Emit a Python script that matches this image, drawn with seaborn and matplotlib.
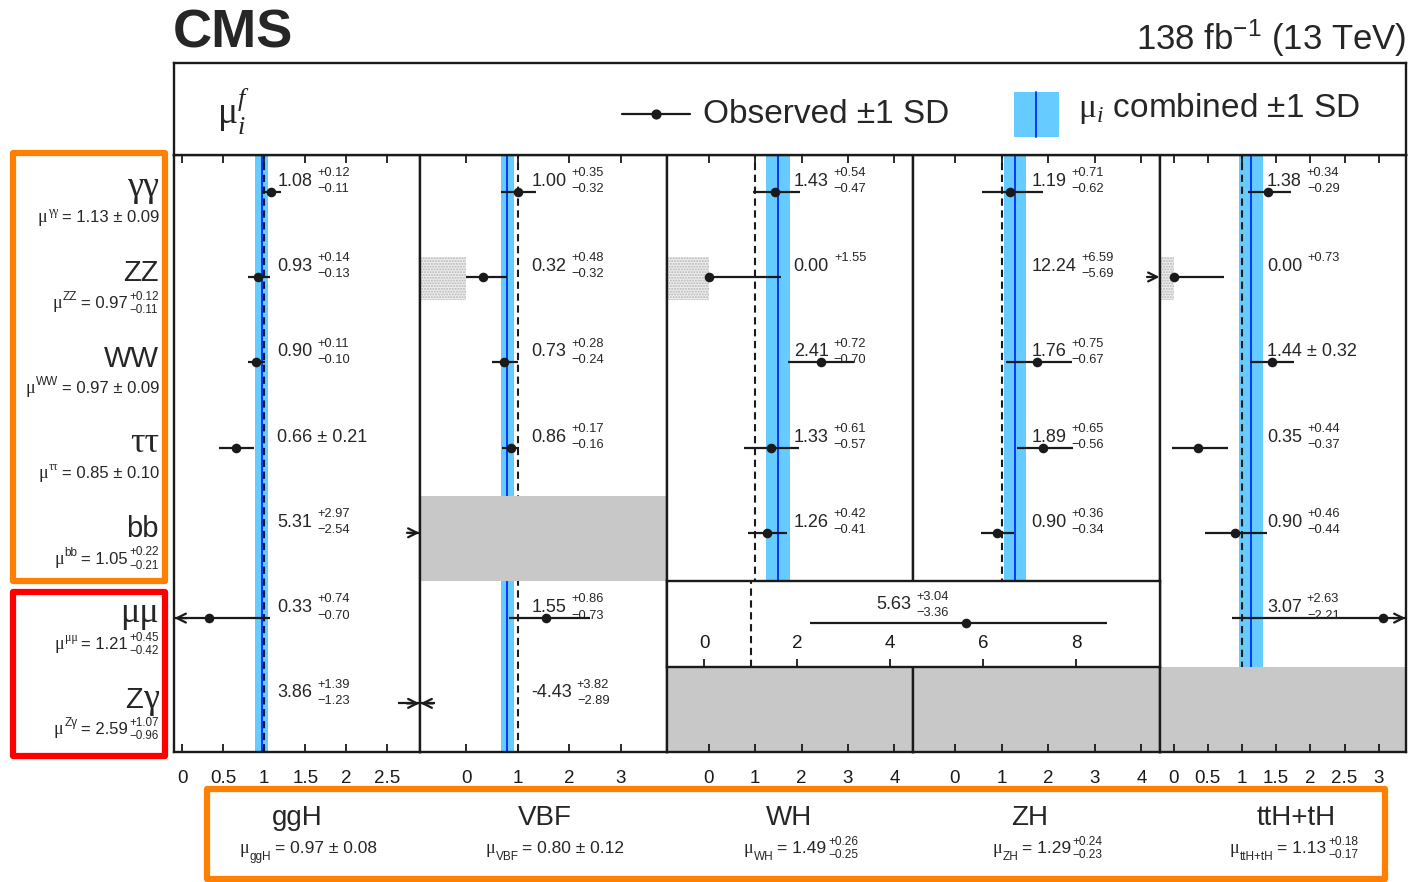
import numpy as np
import pandas as pd
import seaborn as sns
import matplotlib
matplotlib.use("Agg")
import matplotlib.pyplot as plt
from matplotlib import transforms
from matplotlib.patches import Rectangle
from matplotlib.text import Annotation

nan = np.nan

# ---------------- data ----------------
decays = ["γγ", "ZZ", "WW", "ττ", "bb", "μμ", "Zγ"]
decay_mu = [1.13, 0.97, 0.97, 0.85, 1.05, 1.21, 2.59]
decay_up = [0.09, 0.12, 0.09, 0.10, 0.22, 0.45, 1.07]
decay_dn = [0.09, 0.11, 0.09, 0.10, 0.21, 0.42, 0.96]

productions = ["ggH", "VBF", "WH", "ZH", "ttH+tH"]
prod_mu = [0.97, 0.80, 1.49, 1.29, 1.13]
prod_up = [0.08, 0.12, 0.26, 0.24, 0.18]
prod_dn = [0.08, 0.12, 0.25, 0.23, 0.17]

ggh_obs = [1.08, 0.93, 0.90, 0.66, 5.31, 0.33, 3.86]
ggh_up = [0.12, 0.14, 0.11, 0.21, 2.97, 0.74, 1.39]
ggh_dn = [0.11, 0.13, 0.10, 0.21, 2.54, 0.70, 1.23]

vbf_obs = [1.00, 0.32, 0.73, 0.86, nan, 1.55, -4.43]
vbf_up = [0.35, 0.48, 0.28, 0.17, nan, 0.86, 3.82]
vbf_dn = [0.32, 0.32, 0.24, 0.16, nan, 0.73, 2.89]

wh_obs = [1.43, 0.00, 2.41, 1.33, 1.26, nan, nan]
wh_up = [0.54, 1.55, 0.72, 0.61, 0.42, nan, nan]
wh_dn = [0.47, 0.00, 0.70, 0.57, 0.41, nan, nan]

zh_obs = [1.19, 12.24, 1.76, 1.89, 0.90, nan, nan]
zh_up = [0.71, 6.59, 0.75, 0.65, 0.36, nan, nan]
zh_dn = [0.62, 5.69, 0.67, 0.56, 0.34, nan, nan]

tth_obs = [1.38, 0.00, 1.44, 0.35, 0.90, 3.07, nan]
tth_up = [0.34, 0.73, 0.32, 0.44, 0.46, 2.63, nan]
tth_dn = [0.29, 0.00, 0.32, 0.37, 0.44, 2.21, nan]

# VH (WH+ZH) combined mu-mu measurement
vh_mumu_obs = 5.63
vh_mumu_up = 3.04
vh_mumu_dn = 3.36

# cells that are not measured (grey) and rows with a physical boundary at 0
unmeasured = {"ggH": [], "VBF": [4], "WH": [6], "ZH": [6], "ttH+tH": [6]}
boundary = {"ggH": [], "VBF": [1], "WH": [1], "ZH": [], "ttH+tH": [1]}

x_ranges = [(-0.1, 2.9), (-0.9, 3.9), (-0.9, 4.4), (-0.9, 4.4), (-0.2, 3.4)]
x_ticks = [[0, 0.5, 1, 1.5, 2, 2.5], [0, 1, 2, 3], [0, 1, 2, 3, 4],
           [0, 1, 2, 3, 4], [0, 0.5, 1, 1.5, 2, 2.5, 3]]
vh_ticks = [0, 2, 4, 6, 8]

obs_all = [ggh_obs, vbf_obs, wh_obs, zh_obs, tth_obs]
up_all = [ggh_up, vbf_up, wh_up, zh_up, tth_up]
dn_all = [ggh_dn, vbf_dn, wh_dn, zh_dn, tth_dn]

# ---------------- style ----------------
sns.set_theme(style="white")
plt.rcParams["font.family"] = ["Liberation Sans", "DejaVu Sans"]
plt.rcParams["mathtext.fontset"] = "custom"
plt.rcParams["mathtext.rm"] = "Liberation Serif"
plt.rcParams["mathtext.it"] = "Liberation Serif:italic"
plt.rcParams["mathtext.bf"] = "Liberation Sans:bold"
plt.rcParams["mathtext.default"] = "regular"
plt.rcParams["hatch.linewidth"] = 1.0

BAND = "#66ccff"
BLUE = "#0a35ff"
GREY = "#c8c8c8"
ORANGE = "#ff8000"
SANS = ["Liberation Sans", "DejaVu Sans"]
SERIF = ["Liberation Serif", "DejaVu Serif"]
MINUS = "\u2212"

W, H = 1408, 882
fig = plt.figure(figsize=(W / 100, H / 100), dpi=100)


def fx(px):
    return px / W


def fy(py):
    return 1 - py / H


def chain(x, y, transform, pieces, ha="left"):
    """Lay out text pieces on a common baseline.
    piece = (text, size, family, dy_pt, gap_pt, anchor_index or None)"""
    arts = []
    for k, (text, size, fam, dy, gap, anchor) in enumerate(pieces):
        if k == 0:
            t = fig.text(x, y, text, transform=transform, fontsize=size, family=fam,
                         ha="left", va="baseline", zorder=20)
        else:
            ref = arts[k - 1 if anchor is None else anchor]
            t = Annotation(text, xy=(1, y), xycoords=(ref, transform), xytext=(gap, dy),
                           textcoords="offset points", ha="left", va="baseline",
                           fontsize=size, family=fam, annotation_clip=False, zorder=20)
            fig.add_artist(t)
        arts.append(t)
    if ha != "left":
        r = fig.canvas.get_renderer()
        bbs = [a.get_window_extent(r) for a in arts]
        x0 = min(b.x0 for b in bbs)
        x1 = max(b.x1 for b in bbs)
        tx = transform.transform((x, y))[0]
        dx = tx - x1 if ha == "right" else tx - 0.5 * (x0 + x1)
        arts[0].set_transform(transform + transforms.Affine2D().translate(dx, 0))
    return arts


def value_pieces(v, up, dn, size, ssize, gap, dy_up, dy_dn, sep=" "):
    if np.isclose(up, dn):
        return [(f"{v:.2f}{sep}±{sep}{up:.2f}", size, SANS, 0, 0, None)]
    p = [(f"{v:.2f}", size, SANS, 0, 0, None)]
    p.append((f"+{up:.2f}", ssize, SANS, dy_up, gap, 0))
    if dn > 0:
        p.append((f"{MINUS}{dn:.2f}", ssize, SANS, dy_dn, gap, 0))
    return p


def shift(pieces, base):
    out = []
    for (t, s, f, dy, g, a) in pieces:
        out.append((t, s, f, dy, g, None if a is None else a + base))
    return out


def draw_errbar(ax, v, up, dn, y, xr):
    lo, hi = v - dn, v + up
    clo, chi = max(lo, xr[0]), min(hi, xr[1])
    if chi > clo:
        ax.hlines(y, clo, chi, color="k", lw=1.6, zorder=3)
    span = xr[1] - xr[0]
    arrow = dict(arrowstyle="->", lw=1.6, color="k", mutation_scale=16, shrinkA=0, shrinkB=0)
    if hi > xr[1]:
        ax.annotate("", xy=(xr[1] - 0.002 * span, y), xytext=(-9, 0),
                    textcoords="offset points", annotation_clip=False, arrowprops=arrow)
    if lo < xr[0]:
        ax.annotate("", xy=(xr[0] + 0.002 * span, y), xytext=(9, 0),
                    textcoords="offset points", annotation_clip=False, arrowprops=arrow)


def style_frame(ax):
    for sp in ax.spines.values():
        sp.set_linewidth(1.7)
        sp.set_color("k")


panel_x = [174, 420, 667, 913, 1160, 1406]
TOP, BOT = 155, 752
label_frac = [0.42, 0.45, 0.515, 0.48, 0.435]
POINT_OFF = 0.43
TEXT_BASE = 0.36

axes = []
for i, prod in enumerate(productions):
    x0, x1 = panel_x[i], panel_x[i + 1]
    ax = fig.add_axes([fx(x0), fy(BOT), (x1 - x0) / W, (BOT - TOP) / H])
    axes.append(ax)
    xr = x_ranges[i]
    obs, up, dn = obs_all[i], up_all[i], dn_all[i]

    ax.axvspan(prod_mu[i] - prod_dn[i], prod_mu[i] + prod_up[i], color=BAND, lw=0, zorder=1)
    ax.axvline(prod_mu[i], color=BLUE, lw=1.4, zorder=1.2)
    ax.axvline(1.0, color="k", lw=1.5, ls=(0, (3.5, 2.2)), zorder=1.5)

    for r in unmeasured[prod]:
        ax.axhspan(r, r + 1, color=GREY, lw=0, zorder=2.2)
    for r in boundary[prod]:
        ax.add_patch(Rectangle((xr[0], r + 0.2), 0 - xr[0], 0.5, facecolor="#eeeeee",
                               edgecolor="#b5b5b5", hatch="......", lw=0, zorder=2.1))

    df = pd.DataFrame({"obs": obs, "up": up, "dn": dn,
                       "ypos": np.arange(len(decays)) + POINT_OFF}).dropna()
    for _, row in df.iterrows():
        draw_errbar(ax, row.obs, row.up, row.dn, row.ypos, xr)
    sns.scatterplot(data=df, x="obs", y="ypos", ax=ax, color="k", s=48,
                    linewidth=0, zorder=4, legend=False)

    ax.set_xlim(*xr)
    ax.set_ylim(len(decays), 0)
    ax.set_xlabel("")
    ax.set_ylabel("")
    ax.set_yticks([])
    ax.set_xticks(x_ticks[i])
    ax.set_xticklabels([f"{t:g}" for t in x_ticks[i]])
    ax.set_axisbelow(False)
    ax.tick_params(axis="x", which="major", direction="in", top=True, bottom=True,
                   length=6, width=1.3, labelsize=13.5, pad=13, colors="k")
    style_frame(ax)
    ax.set_facecolor("white")

    trans = transforms.blended_transform_factory(ax.transAxes, ax.transData)
    for r, row in df.iterrows():
        chain(label_frac[i], r + TEXT_BASE, trans,
              value_pieces(row.obs, row.up, row.dn, 13, 9.3, 3.6, 7.0, -4.6))

# ---------------- combined VH mu-mu panel ----------------
axm = fig.add_axes([fx(667), fy(667), (1160 - 667) / W, (667 - 581) / H], zorder=5)
vxr = (-0.8, 9.8)
axm.axvline(1.0, color="k", lw=1.5, ls=(0, (3.5, 2.2)), zorder=1.5)
draw_errbar(axm, vh_mumu_obs, vh_mumu_up, vh_mumu_dn, 0.49, vxr)
dfm = pd.DataFrame({"obs": [vh_mumu_obs], "ypos": [0.49]})
sns.scatterplot(data=dfm, x="obs", y="ypos", ax=axm, color="k", s=48,
                linewidth=0, zorder=4, legend=False)
axm.set_xlim(*vxr)
axm.set_ylim(1, 0)
axm.set_xlabel("")
axm.set_ylabel("")
axm.set_yticks([])
axm.set_xticks(vh_ticks)
axm.set_xticklabels([str(t) for t in vh_ticks])
axm.set_axisbelow(False)
axm.tick_params(axis="x", direction="in", bottom=True, top=False, length=6, width=1.3,
                labelsize=13.5, pad=-23, colors="k")
axm.set_facecolor("white")
style_frame(axm)
chain(0.424, 0.33, transforms.blended_transform_factory(axm.transAxes, axm.transData),
      value_pieces(vh_mumu_obs, vh_mumu_up, vh_mumu_dn, 13, 9.3, 3.6, 7.0, -4.6))

# ---------------- legend box ----------------
axl = fig.add_axes([fx(174), fy(155), 1232 / W, 92 / H])
axl.set_xlim(0, 1)
axl.set_ylim(0, 1)
axl.set_xticks([])
axl.set_yticks([])
style_frame(axl)
axl.text(0.035, 0.47, r"$\mathrm{\mu}_{\mathit{i}}^{\mathit{f}}$", fontsize=27,
         ha="left", va="center")
axl.plot([0.364, 0.419], [0.445, 0.445], color="k", lw=1.6)
axl.scatter([0.391], [0.445], color="k", s=40, zorder=3)
axl.text(0.429, 0.44, "Observed ±1 SD", fontsize=24, ha="left", va="center")
axl.add_patch(Rectangle((0.682, 0.196), 0.036, 0.49, facecolor=BAND, lw=0))
axl.plot([0.700, 0.700], [0.196, 0.686], color=BLUE, lw=1.4)
axl.text(0.734, 0.50, r"$\mathrm{\mu}_{\mathit{i}}$ combined ±1 SD", fontsize=24,
         ha="left", va="center")

# ---------------- header ----------------
fig.text(fx(173), fy(33), "CMS", fontsize=39, fontweight="bold", ha="left", va="center")
fig.text(fx(1406), fy(38), r"138 fb$^{-1}$ (13 TeV)", fontsize=25, ha="right", va="center")

# ---------------- left decay labels ----------------
tl = transforms.blended_transform_factory(fig.transFigure, axes[0].transData)


def is_greek(c):
    return c in "γτμ"


for r, name in enumerate(decays):
    big = []
    for c in name:
        if is_greek(c):
            big.append((c, 26, SERIF, 0, 0, None))
        else:
            big.append((c, 21, SANS, 0, 0, None))
    merged = []
    for p in big:
        if merged and merged[-1][1] == p[1]:
            merged[-1] = (merged[-1][0] + p[0],) + merged[-1][1:]
        else:
            merged.append(p)
    chain(fx(159), r + 0.48, tl, merged, ha="right")

    sup_fam = SERIF if all(is_greek(c) for c in name) else SANS
    sub = [("μ", 13, SERIF, 0, 0, None), (name, 8.5, sup_fam, 5.6, 0.6, None)]
    vals = value_pieces(decay_mu[r], decay_up[r], decay_dn[r], 12, 8.4, 1.2, 5.8, -3.8)
    vals[0] = ("= " + vals[0][0],) + vals[0][1:3] + (0, 2.5, None)
    sub += shift(vals, 2)
    chain(fx(159), r + 0.79, tl, sub, ha="right")

fig.add_artist(Rectangle((fx(13), fy(581)), 152 / W, (581 - 153) / H, transform=fig.transFigure,
                         fill=False, ec=ORANGE, lw=4.5, joinstyle="round"))
fig.add_artist(Rectangle((fx(13), fy(756)), 152 / W, (756 - 592) / H, transform=fig.transFigure,
                         fill=False, ec="#ff0000", lw=4.5, joinstyle="round"))

# ---------------- bottom production labels ----------------
name_x = [297, 545, 789, 1030, 1296]
for i, prod in enumerate(productions):
    fig.text(fx(name_x[i]), fy(825), prod, fontsize=20, ha="center", va="baseline")
    cx = 0.5 * (panel_x[i] + panel_x[i + 1]) + 11
    sub = [("μ", 13, SERIF, 0, 0, None), (prod, 8.5, SANS, -5.0, 0.6, None)]
    vals = value_pieces(prod_mu[i], prod_up[i], prod_dn[i], 12.5, 8.6, 1.2, 6.0, -3.8)
    vals[0] = ("= " + vals[0][0],) + vals[0][1:3] + (0, 2.5, None)
    sub += shift(vals, 2)
    chain(fx(cx), fy(853), fig.transFigure, sub, ha="center")

fig.add_artist(Rectangle((fx(207), fy(879)), (1385 - 207) / W, (879 - 789) / H,
                         transform=fig.transFigure, fill=False, ec=ORANGE, lw=4.5,
                         joinstyle="round"))

fig.savefig("out.png", dpi=100)
